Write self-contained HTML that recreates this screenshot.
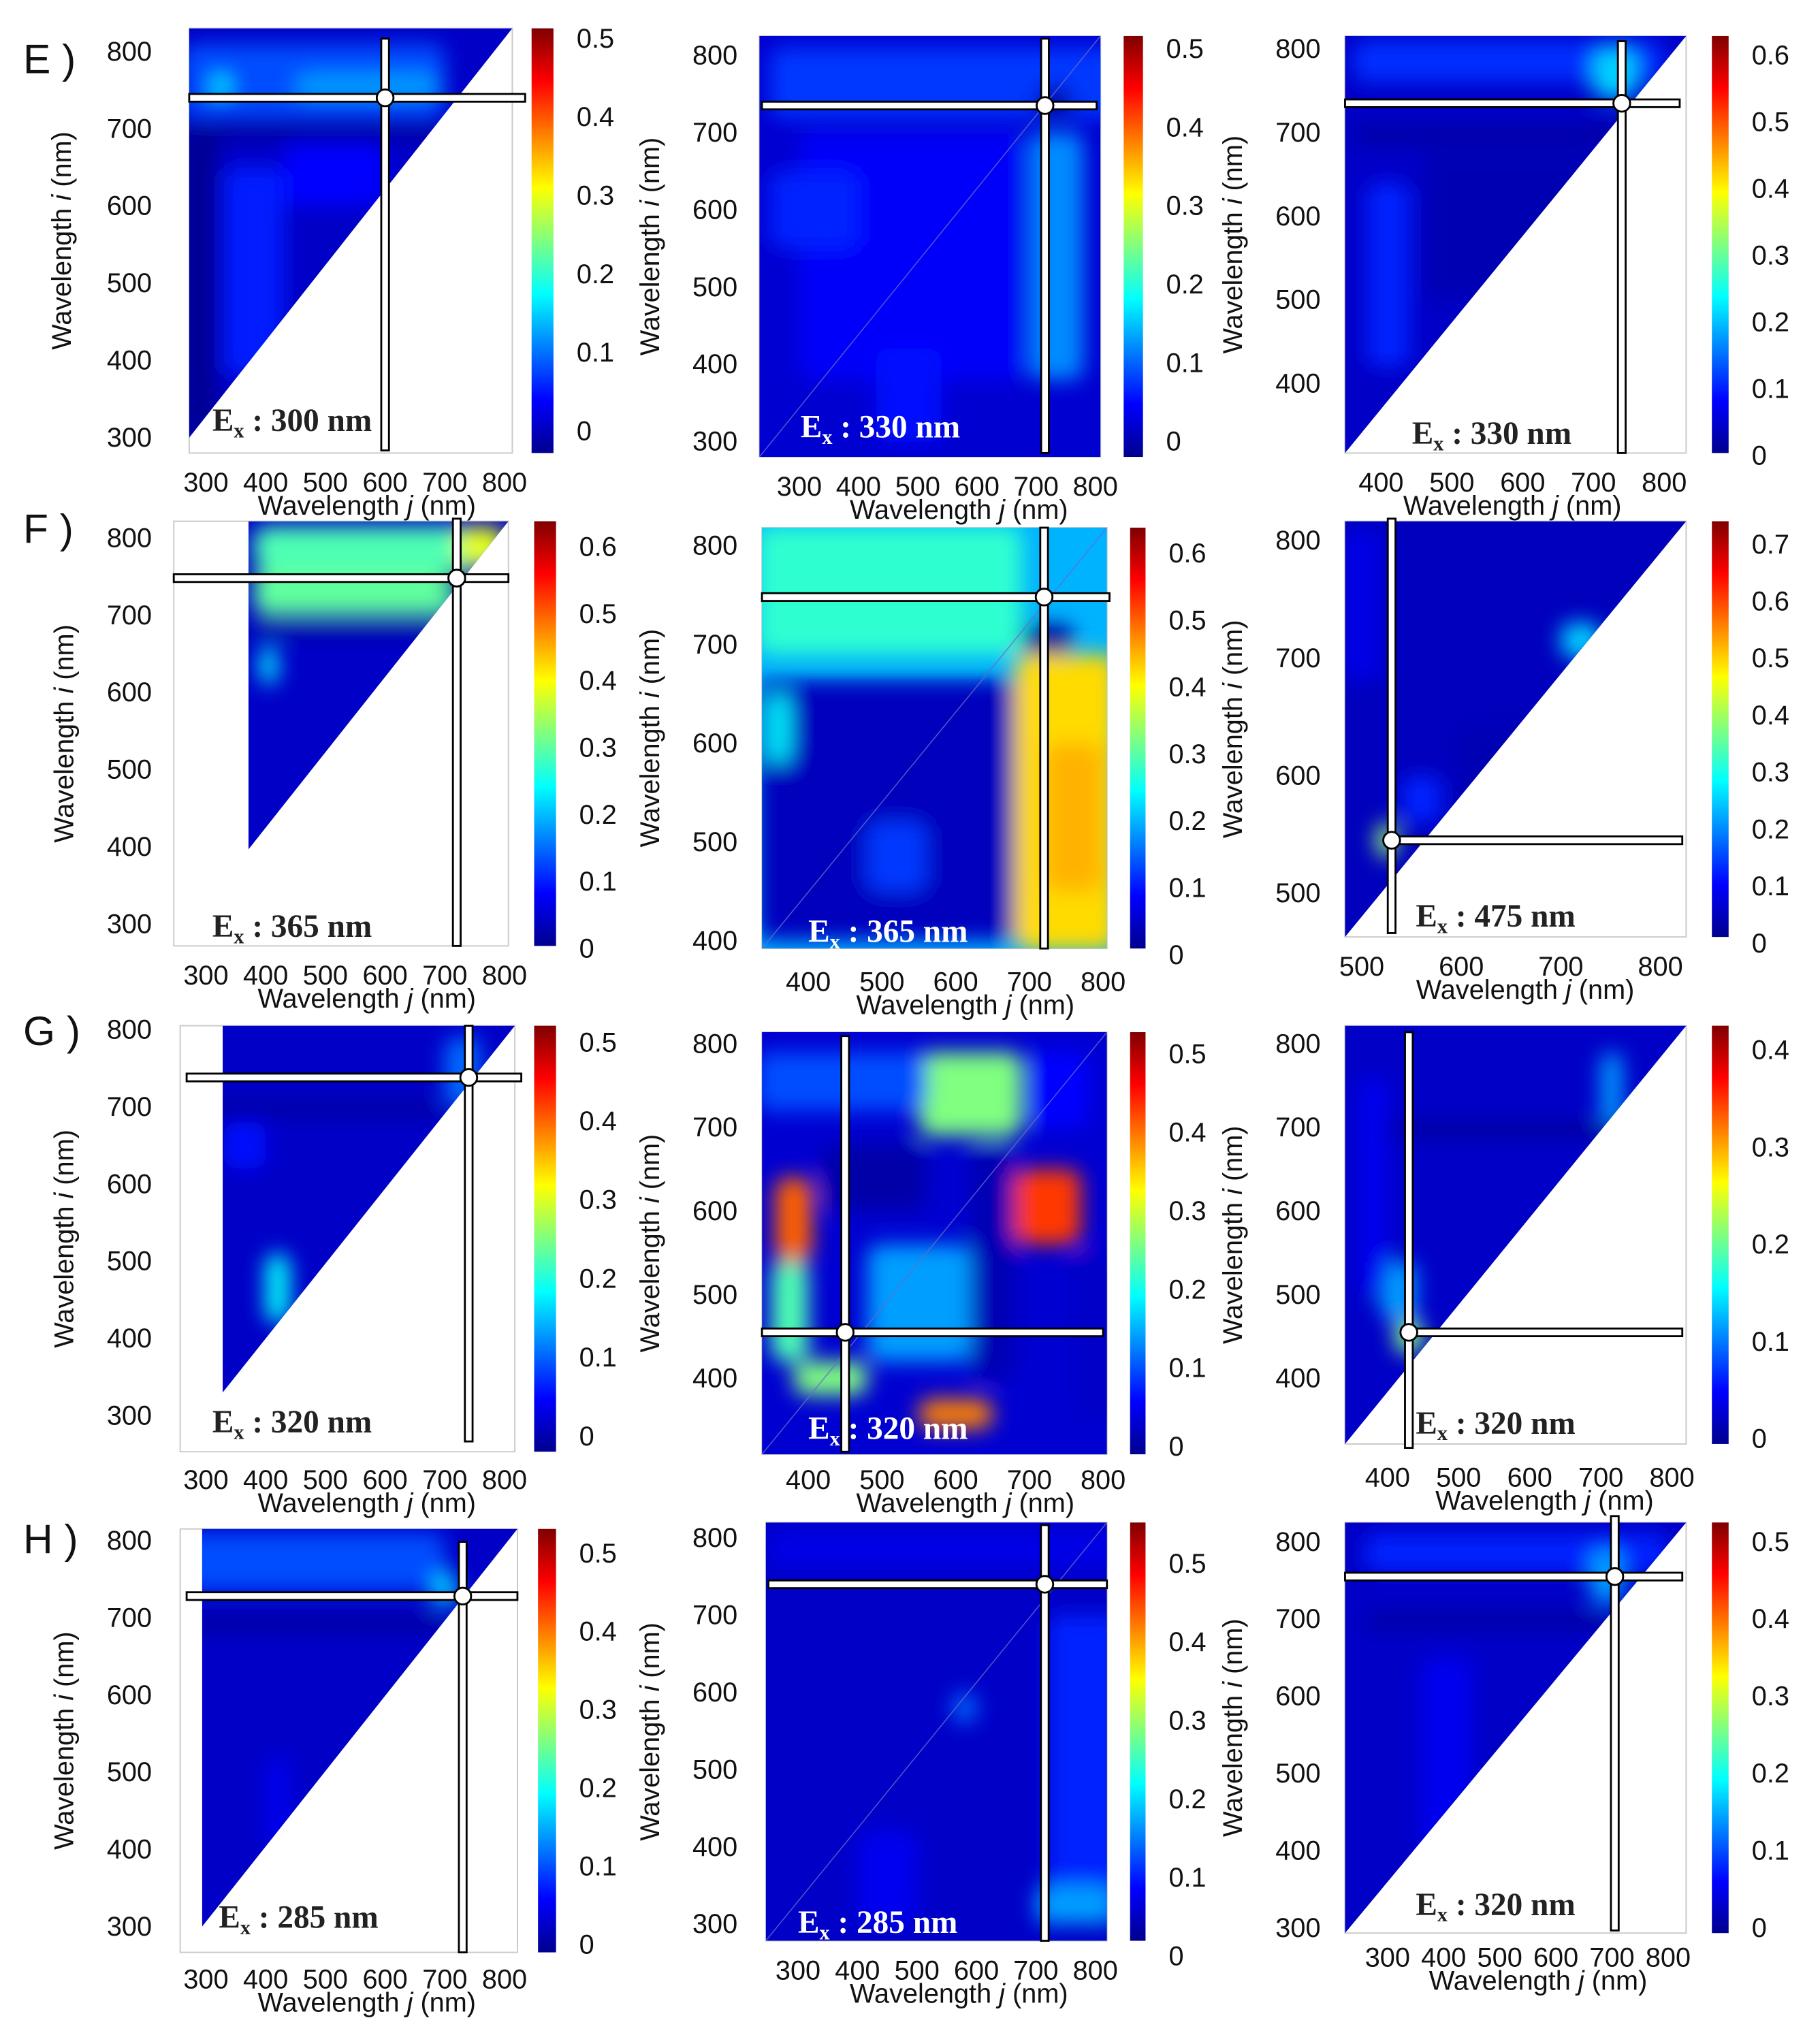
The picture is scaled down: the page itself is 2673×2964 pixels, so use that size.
<!DOCTYPE html>
<html><head><meta charset="utf-8">
<style>
html,body{margin:0;padding:0;background:#fff;}
svg{display:block;}
text{font-family:"Liberation Sans",sans-serif;}
.ex{font-family:"Liberation Serif",serif;font-weight:bold;}
</style></head>
<body>
<svg id="fig" xmlns="http://www.w3.org/2000/svg" width="2673" height="2964" viewBox="0 0 1414 1568" preserveAspectRatio="none">
<defs>
<linearGradient id="jetbar" x1="0" y1="1" x2="0" y2="0">
<stop offset="0" stop-color="#00008f"/><stop offset="0.125" stop-color="#0000ff"/>
<stop offset="0.375" stop-color="#00ffff"/><stop offset="0.625" stop-color="#ffff00"/>
<stop offset="0.875" stop-color="#ff0000"/><stop offset="1" stop-color="#800000"/>
</linearGradient>
<filter id="blur" x="-30%" y="-30%" width="160%" height="160%"><feGaussianBlur stdDeviation="8"/></filter>
</defs>
<g id="root"></g>
</svg>
<script>
const rowLabels = ["E )","F )","G )","H )"];
const xTickLabels = [[300,400,500,600,700,800],[300,400,500,600,700,800],[400,500,600,700,800],
 [300,400,500,600,700,800],[400,500,600,700,800],[500,600,700,800],
 [300,400,500,600,700,800],[400,500,600,700,800],[400,500,600,700,800],
 [300,400,500,600,700,800],[300,400,500,600,700,800],[300,400,500,600,700,800]];
const yTickLabels = [[300,400,500,600,700,800],[300,400,500,600,700,800],[400,500,600,700,800],
 [300,400,500,600,700,800],[400,500,600,700,800],[500,600,700,800],
 [300,400,500,600,700,800],[400,500,600,700,800],[400,500,600,700,800],
 [300,400,500,600,700,800],[300,400,500,600,700,800],[300,400,500,600,700,800]];
const cbarMax = [0.5,0.5,0.6, 0.6,0.6,0.7, 0.5,0.5,0.4, 0.5,0.5,0.5];
const excitationFix = [300,330,330,365,365,475,320,320,320,285,285,320];
const crossJ = [600,715,740, 720,720,530, 740,450,430, 730,715,705];
const crossI = [740,735,735, 748,748,545, 738,455,455, 728,740,755];
const baseVal = [0.07,0.08,0.07, 0.07,0.3,0.06, 0.07,0.08,0.07, 0.07,0.07,0.07];
const blobs = [
 [[260,700,715,810,0.2],[310,340,740,770,0.36],[450,690,740,770,0.28],[260,700,690,705,0.01],[330,430,380,650,0.15],[430,600,600,680,0.13],[260,320,300,700,0.02]],
 [[250,850,720,810,0.18],[300,680,380,700,0.12],[690,780,380,700,0.26],[700,760,720,760,0.04],[250,400,550,650,0.16],[430,540,300,420,0.14]],
 [[360,800,760,810,0.17],[700,760,740,800,0.33],[360,800,690,705,0.02],[380,440,420,640,0.16],[460,700,500,680,0.05]],
 [[380,720,700,760,0.47],[380,800,760,815,0.45],[720,800,765,815,0.6],[700,740,720,760,0.03],[390,420,610,660,0.36],[380,720,675,690,0.02]],
 [[330,690,690,820,0.42],[330,690,400,665,0.06],[345,375,580,650,0.36],[680,820,390,690,0.66],[720,800,450,600,0.7],[690,760,690,720,0.02],[480,560,450,520,0.18]],
 [[700,740,700,730,0.33],[540,580,560,600,0.16],[515,535,530,560,0.52],[480,520,680,810,0.1],[600,800,560,640,0.05]],
 [[400,440,420,510,0.38],[700,760,700,790,0.23],[300,700,690,705,0.02],[330,400,620,680,0.14]],
 [[550,690,690,790,0.5],[680,770,560,650,0.82],[355,405,540,640,0.78],[550,650,340,375,0.75],[380,480,380,420,0.5],[420,560,600,680,0.04],[620,680,400,680,0.05],[350,400,420,540,0.45],[480,620,420,560,0.28],[330,560,720,790,0.2],[700,780,700,790,0.13],[760,810,350,550,0.07]],
 [[410,450,430,470,0.5],[700,730,700,790,0.28],[380,800,690,705,0.02],[390,440,470,540,0.28],[360,400,500,760,0.11]],
 [[260,700,735,810,0.2],[680,720,715,760,0.33],[400,440,400,520,0.11],[260,700,685,700,0.02]],
 [[250,850,760,810,0.1],[720,850,300,700,0.16],[700,830,300,350,0.28],[560,600,560,600,0.23],[400,500,300,420,0.11]],
 [[260,800,760,810,0.16],[660,720,720,790,0.28],[360,450,400,650,0.11],[260,700,690,705,0.02]]
];
const L = [
 {x0:147,x1:398,y0:22,y1:352,xa:[300,160,800,392],ya:[800,40,300,340],tri:[147,340],cb:[413,430,22,352,335,30],ex:[165,335],yt:55,xt:285,xty:392,white:false,hx:[147,408],vy:[30,350],col:0},
 {x0:590,x1:855,y0:28,y1:355,xa:[300,621,800,851],ya:[800,43,300,343],tri:null,cb:[873,888,28,355,343,38],ex:[622,340],yt:512,xt:745,xty:395,white:true,hx:[592,852],vy:[30,352],col:1},
 {x0:1045,x1:1310,y0:28,y1:352,xa:[400,1073,800,1293],ya:[800,38,400,298],tri:[1045,352],cb:[1330,1343,28,352,354,43],ex:[1097,345],yt:965,xt:1175,xty:392,white:false,hx:[1045,1305],vy:[32,352],col:2},
 {x0:135,x1:395,y0:405,y1:735,xa:[300,160,800,392],ya:[800,418,300,718],tri:[193,660],cb:[415,432,405,735,737,425],ex:[165,728],yt:57,xt:285,xty:775,white:false,hx:[135,395],vy:[403,735],col:0},
 {x0:592,x1:860,y0:410,y1:737,xa:[400,628,800,857],ya:[800,424,400,731],tri:null,cb:[878,890,410,737,742,430],ex:[628,732],yt:512,xt:750,xty:780,white:true,hx:[592,862],vy:[410,737],col:1},
 {x0:1045,x1:1310,y0:405,y1:728,xa:[500,1058,800,1290],ya:[800,420,500,694],tri:[1045,728],cb:[1330,1343,405,728,733,423],ex:[1100,720],yt:965,xt:1185,xty:768,white:false,hx:[1083,1307],vy:[403,725],col:2},
 {x0:140,x1:400,y0:797,y1:1128,xa:[300,160,800,392],ya:[800,800,300,1100],tri:[173,1082],cb:[415,432,797,1128,1116,810],ex:[165,1113],yt:57,xt:285,xty:1167,white:false,hx:[145,405],vy:[797,1120],col:0},
 {x0:592,x1:860,y0:802,y1:1130,xa:[400,628,800,857],ya:[800,811,400,1071],tri:null,cb:[878,890,802,1130,1124,819],ex:[628,1118],yt:512,xt:750,xty:1167,white:true,hx:[592,857],vy:[805,1128],col:1},
 {x0:1045,x1:1310,y0:797,y1:1122,xa:[400,1078,800,1299],ya:[800,811,400,1071],tri:[1045,1122],cb:[1330,1343,797,1122,1118,816],ex:[1100,1114],yt:965,xt:1200,xty:1165,white:false,hx:[1096,1307],vy:[802,1125],col:2},
 {x0:140,x1:402,y0:1188,y1:1517,xa:[300,160,800,392],ya:[800,1197,300,1497],tri:[157,1497],cb:[418,432,1188,1517,1511,1207],ex:[170,1498],yt:57,xt:285,xty:1555,white:false,hx:[145,402],vy:[1198,1517],col:0},
 {x0:595,x1:860,y0:1183,y1:1508,xa:[300,620,800,851],ya:[800,1195,300,1495],tri:null,cb:[878,890,1183,1508,1520,1215],ex:[620,1502],yt:512,xt:745,xty:1548,white:true,hx:[597,860],vy:[1185,1508],col:1},
 {x0:1045,x1:1310,y0:1183,y1:1502,xa:[300,1078,800,1296],ya:[800,1198,300,1498],tri:[1045,1502],cb:[1330,1343,1183,1502,1498,1198],ex:[1100,1488],yt:965,xt:1195,xty:1538,white:false,hx:[1045,1307],vy:[1178,1500],col:2}
];
const rowLabelPos = [[18,45],[18,410],[18,800],[18,1195]];
const NS="http://www.w3.org/2000/svg";
const root=document.getElementById('root');
function mk(tag,attrs,parent){const e=document.createElementNS(NS,tag);for(const k in attrs)e.setAttribute(k,attrs[k]);(parent||root).appendChild(e);return e;}
function jet(t){t=Math.max(0,Math.min(1,t));
 const r=Math.max(0,Math.min(1,1.5-Math.abs(4*t-3))),g=Math.max(0,Math.min(1,1.5-Math.abs(4*t-2))),b=Math.max(0,Math.min(1,1.5-Math.abs(4*t-1)));
 return `rgb(${Math.round(r*255)},${Math.round(g*255)},${Math.round(b*255)})`;}

rowLabels.forEach((s,r)=>{
 const t=mk('text',{x:rowLabelPos[r][0],y:rowLabelPos[r][1]+12,'font-size':32,fill:'#111'});
 
 
 t.textContent=s;
});

L.forEach((p,k)=>{
 const sx=v=>p.xa[1]+(v-p.xa[0])*(p.xa[3]-p.xa[1])/(p.xa[2]-p.xa[0]);
 const sy=v=>p.ya[1]+(v-p.ya[0])*(p.ya[3]-p.ya[1])/(p.ya[2]-p.ya[0]);
 const g=mk('g',{});
 
 
 const fr=mk('rect',{x:p.x0,y:p.y0,width:p.x1-p.x0,height:p.y1-p.y0,fill:'#fff',stroke:'#c8c8c8','stroke-width':1},g);
 
 
 const cid='clip'+k;
 const cp=mk('clipPath',{id:cid},g);
 if(p.tri){ mk('polygon',{points:`${p.tri[0]},${p.y0} ${p.x1},${p.y0} ${p.tri[0]},${p.tri[1]}`},cp); }
 else mk('rect',{x:p.x0,y:p.y0,width:p.x1-p.x0,height:p.y1-p.y0},cp);
 const hm=mk('g',{'clip-path':`url(#${cid})`},g);
 
 
 mk('rect',{x:p.x0,y:p.y0,width:p.x1-p.x0,height:p.y1-p.y0,fill:jet(baseVal[k])},hm);
 const bg=mk('g',{filter:'url(#blur)'},hm);
 blobs[k].forEach((b,bi)=>{
  const xa=sx(b[0]),xb=sx(b[1]),ya=sy(b[3]),yb=sy(b[2]);
  const e=mk('rect',{x:Math.min(xa,xb),y:Math.min(ya,yb),width:Math.abs(xb-xa),height:Math.abs(yb-ya),rx:10,fill:jet(b[4])},bg);
  
  
 });
 if(!p.tri){ mk('line',{x1:p.x0,y1:p.y1,x2:p.x1,y2:p.y0,stroke:'#6a6ad0','stroke-width':0.8,opacity:0.8},hm); }
 xTickLabels[k].forEach(v=>{
  const t=mk('text',{x:sx(v),y:p.xty-10,'font-size':21,'text-anchor':'middle',fill:'#111'},g);
  
  
  t.textContent=v;
 });
 yTickLabels[k].forEach(v=>{
  const t=mk('text',{x:p.col==0?118:(p.col==1?573:1026),y:sy(v)+7,'font-size':21,'text-anchor':'end',fill:'#111'},g);
  
  
  t.textContent=v;
 });
 const xt=mk('text',{x:p.xt,y:p.xty+8,'font-size':21,'text-anchor':'middle',fill:'#111'},g);
 
 
 xt.innerHTML='Wavelength <tspan font-style="italic">j</tspan> (nm)';
 const cy=(p.y0+p.y1)/2;
 const yt=mk('text',{x:p.yt,y:cy,'font-size':21,'text-anchor':'middle',fill:'#111',transform:`rotate(-90 ${p.yt} ${cy})`},g);
 
 
 yt.innerHTML='Wavelength <tspan font-style="italic">i</tspan> (nm)';
 const ex=mk('text',{x:p.ex[0],y:p.ex[1],'font-size':25,fill:p.white?'#fff':'#222',class:'ex'},g);
 
 
 ex.innerHTML=`E<tspan font-size="16" dy="5">x</tspan><tspan dy="-5"> : ${excitationFix[k]} nm</tspan>`;
 const cx=sx(crossJ[k]), cyy=sy(crossI[k]);
 const ch=mk('g',{},g);
 
 
 mk('rect',{x:p.hx[0],y:cyy-3,width:p.hx[1]-p.hx[0],height:6,fill:'#fff',stroke:'#000','stroke-width':1.5},ch);
 mk('rect',{x:cx-3,y:p.vy[0],width:6,height:p.vy[1]-p.vy[0],fill:'#fff',stroke:'#000','stroke-width':1.5},ch);
 mk('circle',{cx:cx,cy:cyy,r:6.5,fill:'#fff',stroke:'#000','stroke-width':1.5},ch);
 const c=p.cb;
 const cb=mk('rect',{x:c[0],y:c[2],width:c[1]-c[0],height:c[3]-c[2],fill:'url(#jetbar)'},g);
 
 
 const n=Math.round(cbarMax[k]/0.1);
 for(let i=0;i<=n;i++){
  const v=i*0.1;
  const y=c[4]+(c[5]-c[4])*v/cbarMax[k];
  const t=mk('text',{x:c[1]+18,y:y+7,'font-size':21,fill:'#111'},g);
  
  
  t.textContent=i==0?'0':v.toFixed(1);
 }
});
</script>
</body></html>
